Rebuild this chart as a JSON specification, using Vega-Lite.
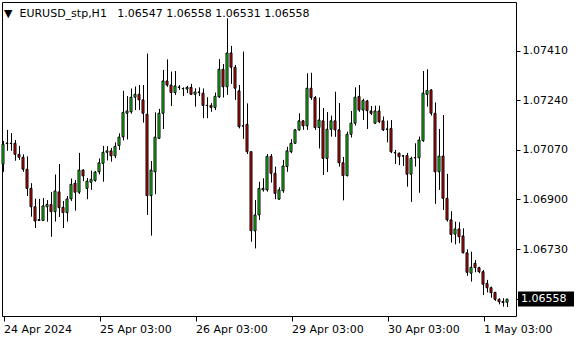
{
  "$schema": "https://vega.github.io/schema/vega-lite/v6.json",
  "width": 514,
  "height": 314,
  "autosize": "none",
  "padding": {"left": 2, "top": 2, "right": 64, "bottom": 24},
  "background": "white",
  "config": {"view": {"stroke": "black", "strokeWidth": 1}, "font": "DejaVu Sans"},
  "datasets": {
    "candles": [
      {"i":0,"o":1.07021,"h":1.07101,"l":1.06995,"c":1.07090},
      {"i":1,"o":1.07092,"h":1.07139,"l":1.07067,"c":1.07094},
      {"i":2,"o":1.07092,"h":1.07128,"l":1.07067,"c":1.07093},
      {"i":3,"o":1.07093,"h":1.07104,"l":1.07033,"c":1.07055},
      {"i":4,"o":1.07055,"h":1.07084,"l":1.07036,"c":1.07045},
      {"i":5,"o":1.07045,"h":1.07055,"l":1.06995,"c":1.07004},
      {"i":6,"o":1.07004,"h":1.07048,"l":1.06912,"c":1.06938},
      {"i":7,"o":1.06938,"h":1.06956,"l":1.06841,"c":1.06875},
      {"i":8,"o":1.06875,"h":1.06903,"l":1.06802,"c":1.06826},
      {"i":9,"o":1.06831,"h":1.06902,"l":1.06826,"c":1.06828},
      {"i":10,"o":1.06828,"h":1.06905,"l":1.06826,"c":1.06878},
      {"i":11,"o":1.06875,"h":1.06898,"l":1.06824,"c":1.06883},
      {"i":12,"o":1.06883,"h":1.06926,"l":1.06772,"c":1.06858},
      {"i":13,"o":1.06858,"h":1.06986,"l":1.06824,"c":1.06929},
      {"i":14,"o":1.06926,"h":1.07022,"l":1.06840,"c":1.06872},
      {"i":15,"o":1.06873,"h":1.06895,"l":1.06802,"c":1.06855},
      {"i":16,"o":1.06855,"h":1.06912,"l":1.06824,"c":1.06902},
      {"i":17,"o":1.06902,"h":1.06972,"l":1.06895,"c":1.06952},
      {"i":18,"o":1.06956,"h":1.06967,"l":1.06862,"c":1.06925},
      {"i":19,"o":1.06925,"h":1.07060,"l":1.06919,"c":1.07001},
      {"i":20,"o":1.07001,"h":1.07004,"l":1.06963,"c":1.06981},
      {"i":21,"o":1.06938,"h":1.06974,"l":1.06901,"c":1.06963},
      {"i":22,"o":1.06959,"h":1.06999,"l":1.06933,"c":1.06969},
      {"i":23,"o":1.06965,"h":1.06998,"l":1.06961,"c":1.06994},
      {"i":24,"o":1.06995,"h":1.07041,"l":1.06986,"c":1.07026},
      {"i":25,"o":1.07024,"h":1.07084,"l":1.06961,"c":1.07062},
      {"i":26,"o":1.07062,"h":1.07083,"l":1.07034,"c":1.07067},
      {"i":27,"o":1.07067,"h":1.07077,"l":1.07030,"c":1.07050},
      {"i":28,"o":1.07050,"h":1.07096,"l":1.07042,"c":1.07082},
      {"i":29,"o":1.07085,"h":1.07127,"l":1.07070,"c":1.07114},
      {"i":30,"o":1.07115,"h":1.07273,"l":1.07103,"c":1.07199},
      {"i":31,"o":1.07196,"h":1.07255,"l":1.07106,"c":1.07204},
      {"i":32,"o":1.07201,"h":1.07281,"l":1.07195,"c":1.07251},
      {"i":33,"o":1.07251,"h":1.07288,"l":1.07207,"c":1.07261},
      {"i":34,"o":1.07261,"h":1.07293,"l":1.07207,"c":1.07242},
      {"i":35,"o":1.07242,"h":1.07293,"l":1.07164,"c":1.07196},
      {"i":36,"o":1.07193,"h":1.07401,"l":1.06847,"c":1.06913},
      {"i":37,"o":1.06913,"h":1.07032,"l":1.06776,"c":1.07001},
      {"i":38,"o":1.06995,"h":1.07199,"l":1.06918,"c":1.07114},
      {"i":39,"o":1.07110,"h":1.07211,"l":1.07109,"c":1.07196},
      {"i":40,"o":1.07196,"h":1.07345,"l":1.07142,"c":1.07307},
      {"i":41,"o":1.07307,"h":1.07381,"l":1.07287,"c":1.07293},
      {"i":42,"o":1.07293,"h":1.07339,"l":1.07221,"c":1.07267},
      {"i":43,"o":1.07267,"h":1.07341,"l":1.07259,"c":1.07290},
      {"i":44,"o":1.07285,"h":1.07293,"l":1.07276,"c":1.07286},
      {"i":45,"o":1.07281,"h":1.07285,"l":1.07255,"c":1.07280},
      {"i":46,"o":1.07279,"h":1.07290,"l":1.07265,"c":1.07285},
      {"i":47,"o":1.07285,"h":1.07297,"l":1.07259,"c":1.07261},
      {"i":48,"o":1.07261,"h":1.07282,"l":1.07219,"c":1.07269},
      {"i":49,"o":1.07269,"h":1.07285,"l":1.07255,"c":1.07268},
      {"i":50,"o":1.07265,"h":1.07281,"l":1.07179,"c":1.07223},
      {"i":51,"o":1.07223,"h":1.07251,"l":1.07179,"c":1.07222},
      {"i":52,"o":1.07223,"h":1.07231,"l":1.07201,"c":1.07216},
      {"i":53,"o":1.07216,"h":1.07267,"l":1.07207,"c":1.07254},
      {"i":54,"o":1.07252,"h":1.07382,"l":1.07249,"c":1.07347},
      {"i":55,"o":1.07347,"h":1.07365,"l":1.07250,"c":1.07287},
      {"i":56,"o":1.07287,"h":1.07522,"l":1.07259,"c":1.07403},
      {"i":57,"o":1.07403,"h":1.07427,"l":1.07297,"c":1.07354},
      {"i":58,"o":1.07354,"h":1.07362,"l":1.07242,"c":1.07282},
      {"i":59,"o":1.07273,"h":1.07293,"l":1.07144,"c":1.07150},
      {"i":60,"o":1.07153,"h":1.07408,"l":1.07108,"c":1.07152},
      {"i":61,"o":1.07158,"h":1.07230,"l":1.07056,"c":1.07064},
      {"i":62,"o":1.07064,"h":1.07065,"l":1.06755,"c":1.06793},
      {"i":63,"o":1.06792,"h":1.06898,"l":1.06732,"c":1.06847},
      {"i":64,"o":1.06847,"h":1.06961,"l":1.06830,"c":1.06938},
      {"i":65,"o":1.06933,"h":1.06973,"l":1.06927,"c":1.06938},
      {"i":66,"o":1.06933,"h":1.07056,"l":1.06927,"c":1.07048},
      {"i":67,"o":1.07048,"h":1.07056,"l":1.06958,"c":1.06990},
      {"i":68,"o":1.06990,"h":1.07013,"l":1.06901,"c":1.06921},
      {"i":69,"o":1.06901,"h":1.06942,"l":1.06900,"c":1.06933},
      {"i":70,"o":1.06930,"h":1.07036,"l":1.06923,"c":1.07015},
      {"i":71,"o":1.07013,"h":1.07081,"l":1.06995,"c":1.07067},
      {"i":72,"o":1.07064,"h":1.07107,"l":1.07059,"c":1.07093},
      {"i":73,"o":1.07093,"h":1.07141,"l":1.07091,"c":1.07139},
      {"i":74,"o":1.07139,"h":1.07196,"l":1.07136,"c":1.07170},
      {"i":75,"o":1.07170,"h":1.07173,"l":1.07139,"c":1.07153},
      {"i":76,"o":1.07153,"h":1.07333,"l":1.07139,"c":1.07282},
      {"i":77,"o":1.07282,"h":1.07335,"l":1.07242,"c":1.07250},
      {"i":78,"o":1.07250,"h":1.07255,"l":1.07139,"c":1.07147},
      {"i":79,"o":1.07147,"h":1.07250,"l":1.07075,"c":1.07173},
      {"i":80,"o":1.07170,"h":1.07214,"l":1.06984,"c":1.07041},
      {"i":81,"o":1.07041,"h":1.07200,"l":1.06994,"c":1.07141},
      {"i":82,"o":1.07141,"h":1.07188,"l":1.07116,"c":1.07170},
      {"i":83,"o":1.07170,"h":1.07270,"l":1.07115,"c":1.07139},
      {"i":84,"o":1.07139,"h":1.07231,"l":1.07013,"c":1.07026},
      {"i":85,"o":1.07026,"h":1.07046,"l":1.06897,"c":1.06982},
      {"i":86,"o":1.06982,"h":1.07133,"l":1.06979,"c":1.07124},
      {"i":87,"o":1.07124,"h":1.07204,"l":1.07113,"c":1.07162},
      {"i":88,"o":1.07162,"h":1.07285,"l":1.07154,"c":1.07251},
      {"i":89,"o":1.07254,"h":1.07293,"l":1.07201,"c":1.07207},
      {"i":90,"o":1.07207,"h":1.07246,"l":1.07173,"c":1.07240},
      {"i":91,"o":1.07238,"h":1.07242,"l":1.07142,"c":1.07205},
      {"i":92,"o":1.07204,"h":1.07221,"l":1.07190,"c":1.07196},
      {"i":93,"o":1.07162,"h":1.07222,"l":1.07159,"c":1.07204},
      {"i":94,"o":1.07204,"h":1.07222,"l":1.07162,"c":1.07167},
      {"i":95,"o":1.07170,"h":1.07185,"l":1.07135,"c":1.07139},
      {"i":96,"o":1.07142,"h":1.07171,"l":1.07096,"c":1.07141},
      {"i":97,"o":1.07144,"h":1.07173,"l":1.07059,"c":1.07064},
      {"i":98,"o":1.07061,"h":1.07070,"l":1.07022,"c":1.07060},
      {"i":99,"o":1.07059,"h":1.07061,"l":1.07018,"c":1.07047},
      {"i":100,"o":1.07050,"h":1.07053,"l":1.07015,"c":1.07049},
      {"i":101,"o":1.07051,"h":1.07060,"l":1.06944,"c":1.06987},
      {"i":102,"o":1.06987,"h":1.07047,"l":1.06892,"c":1.07041},
      {"i":103,"o":1.07044,"h":1.07093,"l":1.07013,"c":1.07043},
      {"i":104,"o":1.07043,"h":1.07116,"l":1.06923,"c":1.07104},
      {"i":105,"o":1.07102,"h":1.07341,"l":1.07098,"c":1.07265},
      {"i":106,"o":1.07261,"h":1.07347,"l":1.07219,"c":1.07274},
      {"i":107,"o":1.07276,"h":1.07278,"l":1.07188,"c":1.07196},
      {"i":108,"o":1.07196,"h":1.07233,"l":1.06885,"c":1.06995},
      {"i":109,"o":1.06995,"h":1.07142,"l":1.06933,"c":1.07049},
      {"i":110,"o":1.07049,"h":1.07190,"l":1.06864,"c":1.06904},
      {"i":111,"o":1.06904,"h":1.06988,"l":1.06824,"c":1.06830},
      {"i":112,"o":1.06830,"h":1.06860,"l":1.06752,"c":1.06780},
      {"i":113,"o":1.06781,"h":1.06824,"l":1.06746,"c":1.06799},
      {"i":114,"o":1.06799,"h":1.06822,"l":1.06750,"c":1.06772},
      {"i":115,"o":1.06775,"h":1.06801,"l":1.06715,"c":1.06717},
      {"i":116,"o":1.06717,"h":1.06729,"l":1.06638,"c":1.06650},
      {"i":117,"o":1.06647,"h":1.06721,"l":1.06618,"c":1.06667},
      {"i":118,"o":1.06681,"h":1.06692,"l":1.06650,"c":1.06666},
      {"i":119,"o":1.06666,"h":1.06669,"l":1.06647,"c":1.06652},
      {"i":120,"o":1.06652,"h":1.06658,"l":1.06572,"c":1.06609},
      {"i":121,"o":1.06612,"h":1.06624,"l":1.06581,"c":1.06597},
      {"i":122,"o":1.06597,"h":1.06601,"l":1.06563,"c":1.06580},
      {"i":123,"o":1.06581,"h":1.06583,"l":1.06552,"c":1.06557},
      {"i":124,"o":1.06557,"h":1.06561,"l":1.06540,"c":1.06549},
      {"i":125,"o":1.06550,"h":1.06561,"l":1.06532,"c":1.06546},
      {"i":126,"o":1.06547,"h":1.06558,"l":1.06531,"c":1.06558}
    ],
    "last": [{"p": 1.06558}],
    "header": [{"label": "▼\u00a0\u00a0EURUSD_stp,H1\u00a0\u00a0\u2009\u200a1.06547 1.06558 1.06531 1.06558"}]
  },
  "layer": [
    {
      "data": {"name": "candles"},
      "mark": {"type": "rule", "color": "black", "strokeWidth": 1},
      "encoding": {
        "x": {
          "field": "i", "type": "quantitative",
          "scale": {"domain": [-0.375, 128.125], "nice": false, "zero": false, "padding": 0},
          "axis": {
            "values": [0, 24, 48, 72, 96, 120],
            "labelExpr": "['24 Apr 2024','25 Apr 03:00','26 Apr 03:00','29 Apr 03:00','30 Apr 03:00','1 May 03:00'][round(datum.value/24)]",
            "labelAlign": "left", "labelBaseline": "top",
            "tickSize": 5, "tickColor": "black", "domain": false, "grid": false,
            "labelColor": "black", "labelFontSize": 11, "labelFont": "DejaVu Sans",
            "labelPadding": 2, "title": null, "labelFlush": false, "labelOverlap": false, "labelBound": false
          }
        },
        "y": {
          "field": "l", "type": "quantitative",
          "scale": {"domain": [1.065, 1.07578], "nice": false, "zero": false, "padding": 0},
          "axis": {
            "orient": "right",
            "values": [1.06558, 1.0673, 1.069, 1.0707, 1.0724, 1.0741],
            "format": ".5f",
            "labelExpr": "abs(datum.value - 1.06558) < 0.00001 ? '' : datum.label",
            "tickSize": 4, "tickColor": "black", "domain": false, "grid": false,
            "labelColor": "black", "labelFontSize": 11, "labelFont": "DejaVu Sans",
            "labelPadding": 2, "title": null, "labelOverlap": false
          }
        },
        "y2": {"field": "h"}
      }
    },
    {
      "data": {"name": "candles"},
      "mark": {"type": "bar", "width": 2, "stroke": "black", "strokeWidth": 1, "xOffset": -0.5},
      "encoding": {
        "x": {"field": "i", "type": "quantitative"},
        "y": {"field": "o", "type": "quantitative"},
        "y2": {"field": "c"},
        "fill": {"condition": {"test": "datum.c > datum.o", "value": "#22ee22"}, "value": "#e01010"}
      }
    },
    {
      "data": {"name": "last"},
      "mark": {"type": "rule", "color": "black", "strokeWidth": 15, "strokeCap": "butt"},
      "encoding": {
        "x": {"datum": 128.625, "type": "quantitative"},
        "x2": {"datum": 142.625},
        "y": {"field": "p", "type": "quantitative"}
      }
    },
    {
      "data": {"name": "last"},
      "mark": {"type": "text", "align": "left", "baseline": "middle", "color": "white", "fontSize": 11, "font": "DejaVu Sans", "dx": 3},
      "encoding": {
        "x": {"datum": 128.625, "type": "quantitative"},
        "y": {"field": "p", "type": "quantitative"},
        "text": {"field": "p", "type": "quantitative", "format": ".5f"}
      }
    },
    {
      "data": {"name": "header"},
      "mark": {"type": "text", "align": "left", "baseline": "alphabetic", "color": "black", "fontSize": 11, "font": "DejaVu Sans"},
      "encoding": {
        "x": {"datum": 0.125, "type": "quantitative"},
        "y": {"datum": 1.07528, "type": "quantitative"},
        "text": {"field": "label", "type": "nominal"}
      }
    }
  ]
}
